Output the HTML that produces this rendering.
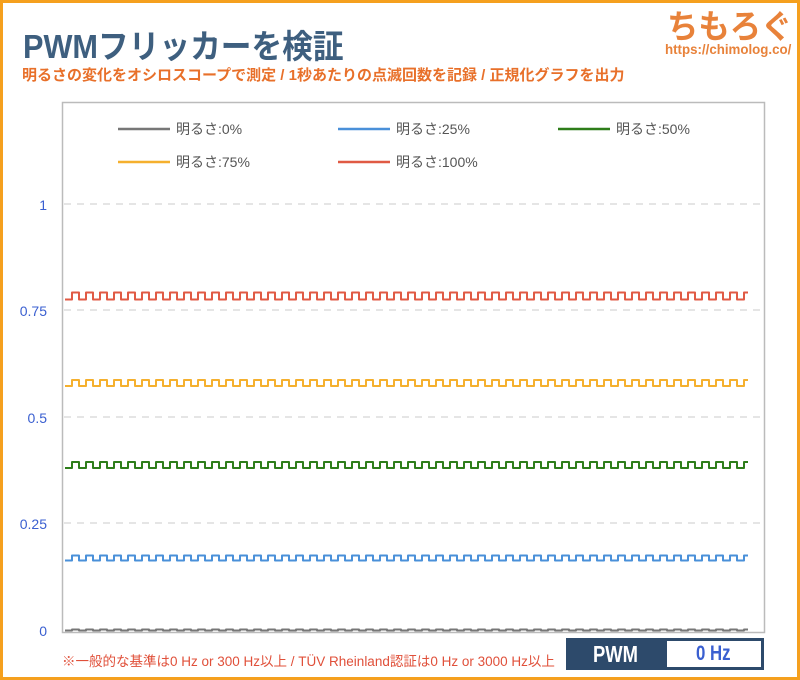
<!DOCTYPE html>
<html><head><meta charset="utf-8"><style>
body{margin:0;width:800px;height:680px;overflow:hidden;background:#fff;font-family:"Liberation Sans","Noto Sans CJK JP",sans-serif}
.frame{position:absolute;left:0;top:0;width:794px;height:674px;border:3px solid #f5a01e}
.t{position:absolute;white-space:nowrap;transform-origin:0 0}
</style></head><body>
<div class="frame"></div>
<div class="t" style="left:23px;top:20px;font-size:33px;font-weight:bold;color:#3e5f7f;transform:scaleX(0.93)">PWMフリッカーを検証</div>
<div class="t" style="left:22px;top:64px;font-size:15px;font-weight:bold;color:#e8702a">明るさの変化をオシロスコープで測定 / 1秒あたりの点滅回数を記録 / 正規化グラフを出力</div>
<div class="t" style="left:667px;top:0px;font-size:33px;font-weight:bold;color:#e8823a;transform:scaleX(0.95)">ちもろぐ</div>
<div class="t" style="left:665px;top:41px;font-size:14px;font-weight:bold;color:#e8823a;transform:scaleX(0.95)">https://chimolog.co/</div>
<svg width="800" height="680" style="position:absolute;left:0;top:0" id="s">
<rect x="62.5" y="102.5" width="702" height="530" fill="none" stroke="#bbb" stroke-width="1.5"/>
<g stroke="#d5d5d5" stroke-dasharray="7,6" stroke-width="1.2">
<line x1="64" x2="763" y1="204" y2="204"/><line x1="64" x2="763" y1="310" y2="310"/>
<line x1="64" x2="763" y1="417" y2="417"/><line x1="64" x2="763" y1="523" y2="523"/></g>
<g fill="#3a5fd0" font-size="14" text-anchor="end" font-family="Liberation Sans,sans-serif">
<text x="47" y="210">1</text><text x="47" y="316">0.75</text><text x="47" y="423">0.5</text><text x="47" y="529">0.25</text><text x="47" y="636">0</text></g>
<g font-size="14" fill="#555" font-family="Liberation Sans,Noto Sans CJK JP,sans-serif">
<line x1="118" x2="170" y1="129" y2="129" stroke="#777" stroke-width="2.5"/><text x="176" y="134">明るさ:0%</text>
<line x1="338" x2="390" y1="129" y2="129" stroke="#4a90d9" stroke-width="2.5"/><text x="396" y="134">明るさ:25%</text>
<line x1="558" x2="610" y1="129" y2="129" stroke="#2e7d1a" stroke-width="2.5"/><text x="616" y="134">明るさ:50%</text>
<line x1="118" x2="170" y1="162" y2="162" stroke="#f5b02e" stroke-width="2.5"/><text x="176" y="167">明るさ:75%</text>
<line x1="338" x2="390" y1="162" y2="162" stroke="#e05a44" stroke-width="2.5"/><text x="396" y="167">明るさ:100%</text>
</g>
</svg>
<div class="t" style="left:62px;top:650px;font-size:13.5px;color:#e0503a">※一般的な基準は0 Hz or 300 Hz以上 / TÜV Rheinland認証は0 Hz or 3000 Hz以上</div>
<div style="position:absolute;left:566px;top:638px;width:198px;height:32px;background:#2d4a6b"></div>
<div class="t" style="left:593px;top:641px;font-size:23px;font-weight:bold;color:#fff;transform:scaleX(0.8)">PWM</div>
<div style="position:absolute;left:667px;top:641px;width:94px;height:26px;background:#fff"></div>
<div class="t" style="left:696px;top:642px;font-size:21px;font-weight:bold;color:#3a5fd0;transform:scaleX(0.8)">0 Hz</div>
<script>
var s=document.getElementById('s');
function sq(y,amp,col){var lo=y+amp/2,hi=y-amp/2,cur=lo,x=65,p=14,d='M65,'+lo;
 while(x<748){x=Math.min(x+p/2,748);d+=' L'+x+','+cur;if(x<748){cur=(cur==lo)?hi:lo;d+=' L'+x+','+cur;}}
 var e=document.createElementNS('http://www.w3.org/2000/svg','path');e.setAttribute('d',d);e.setAttribute('fill','none');e.setAttribute('stroke',col);e.setAttribute('stroke-width','2');e.setAttribute('stroke-linejoin','round');s.appendChild(e);}
sq(296,7,'#e05a44');sq(383,6,'#f5b02e');sq(465,6,'#2e7d1a');sq(558,5,'#4a90d9');sq(630,1,'#777');
</script>
</body></html>
